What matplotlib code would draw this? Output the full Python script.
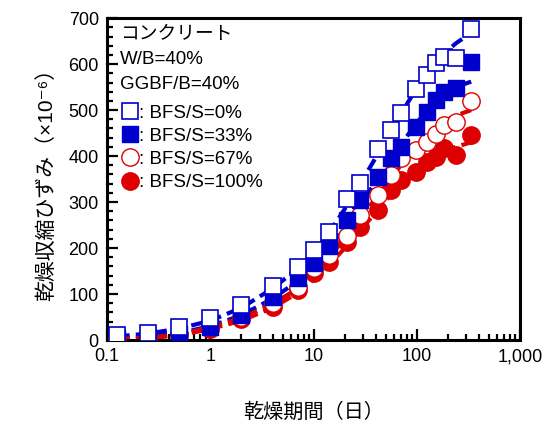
"""
Drying shrinkage vs drying period (log time)
"""
import numpy as np
import matplotlib.pyplot as plt
from matplotlib.ticker import FixedLocator, MultipleLocator, FuncFormatter

plt.rcParams['font.family'] = ['Liberation Sans', 'Noto Sans CJK JP', 'DejaVu Sans']

# drying period (days)
days = [0.125, 0.25, 0.5, 1, 2, 4, 7, 10, 14, 21, 28, 42, 56, 70, 98, 126, 154, 182, 238, 336]

# measured shrinkage (x10^-6)
bfs0 = [11, 15, 29, 47, 76, 118, 158, 196, 235, 306, 342, 415, 457, 493, 546, 576, 603, 616, 614, 677]
bfs33 = [5, 7, 13, 29, 54, 94, 134, 168, 205, 261, 304, 355, 395, 420, 464, 496, 522, 540, 547, 605]
bfs67 = [3, 4, 14, 31, 51, 80, 116, 156, 185, 227, 272, 315, 359, 395, 413, 431, 449, 467, 475, 520]
bfs100 = [2, 3, 10, 25, 45, 72, 108, 145, 170, 214, 246, 283, 326, 348, 366, 388, 398, 417, 402, 446]

# fitted curves (dashed)
fit0 = [8, 14, 25, 42, 70, 112, 155, 190, 232, 292, 338, 405, 455, 492, 545, 580, 605, 622, 645, 668]
fit33 = [4, 8, 15, 30, 54, 90, 128, 160, 198, 252, 295, 350, 392, 425, 470, 500, 520, 535, 550, 562]
fit67 = [2, 5, 12, 28, 48, 78, 112, 145, 180, 225, 262, 315, 352, 380, 420, 445, 462, 475, 488, 500]
fit100 = [1, 4, 10, 24, 42, 70, 102, 132, 162, 205, 238, 282, 316, 340, 370, 390, 403, 412, 420, 430]

blue = '#0000CC'
red = '#DD0000'

fig = plt.figure(figsize=(5.44, 4.28), dpi=100)
ax = fig.add_axes([0.197, 0.2056, 0.759, 0.752])

dash = (0, (3, 1.5))
ax.plot(days, fit0, color=blue, lw=3, ls=dash, zorder=2)
ax.plot(days, fit33, color=blue, lw=3, ls=dash, zorder=2)
ax.plot(days, fit67, color=red, lw=3, ls=dash, zorder=2)
ax.plot(days, fit100, color=red, lw=3, ls=dash, zorder=2)

ax.plot(days, bfs100, 'o', ms=12.5, mfc=red, mec=red, mew=1, ls='none',
        label=': BFS/S=100%', zorder=3)
ax.plot(days, bfs67, 'o', ms=12.5, mfc='white', mec=red, mew=1, ls='none',
        label=': BFS/S=67%', zorder=4)
ax.plot(days, bfs33, 's', ms=12, mfc=blue, mec=blue, mew=1, ls='none',
        label=': BFS/S=33%', zorder=5)
ax.plot(days, bfs0, 's', ms=12, mfc='white', mec=blue, mew=1.2, ls='none',
        label=': BFS/S=0%', zorder=6)

ax.set_xscale('log')
ax.set_xlim(0.1, 1000)
ax.set_ylim(0, 700)
ax.xaxis.set_major_locator(FixedLocator([0.1, 1, 10, 100, 1000]))
ax.xaxis.set_major_formatter(FuncFormatter(lambda v, p: '{:,}'.format(int(v)) if v >= 1 else '{:g}'.format(v)))
ax.yaxis.set_major_locator(MultipleLocator(100))
ax.yaxis.set_minor_locator(MultipleLocator(20))

for s in ax.spines.values():
    s.set_linewidth(2.2)
ax.tick_params(which='both', direction='in', top=False, right=False,
               width=1.6, labelsize=13)
ax.tick_params(which='major', length=8, pad=6)
ax.tick_params(which='minor', length=4.5)

ax.set_xlabel('乾燥期間（日）', fontsize=14.5, labelpad=27)
ax.set_ylabel('乾燥収縮ひずみ（×10⁻⁶）', fontsize=15, labelpad=9)

ax.text(0.03, 0.975, 'コンクリート\nW/B=40%\nGGBF/B=40%', transform=ax.transAxes,
        fontsize=13.5, va='top', ha='left', linespacing=1.6)

h, l = ax.get_legend_handles_labels()
ax.legend(h[::-1], l[::-1], loc='upper left', bbox_to_anchor=(0.0, 0.772),
          frameon=False, fontsize=13.5, handlelength=1.0, handletextpad=0.0,
          labelspacing=0.32, borderaxespad=0.3)

plt.savefig('out.png', dpi=100)
